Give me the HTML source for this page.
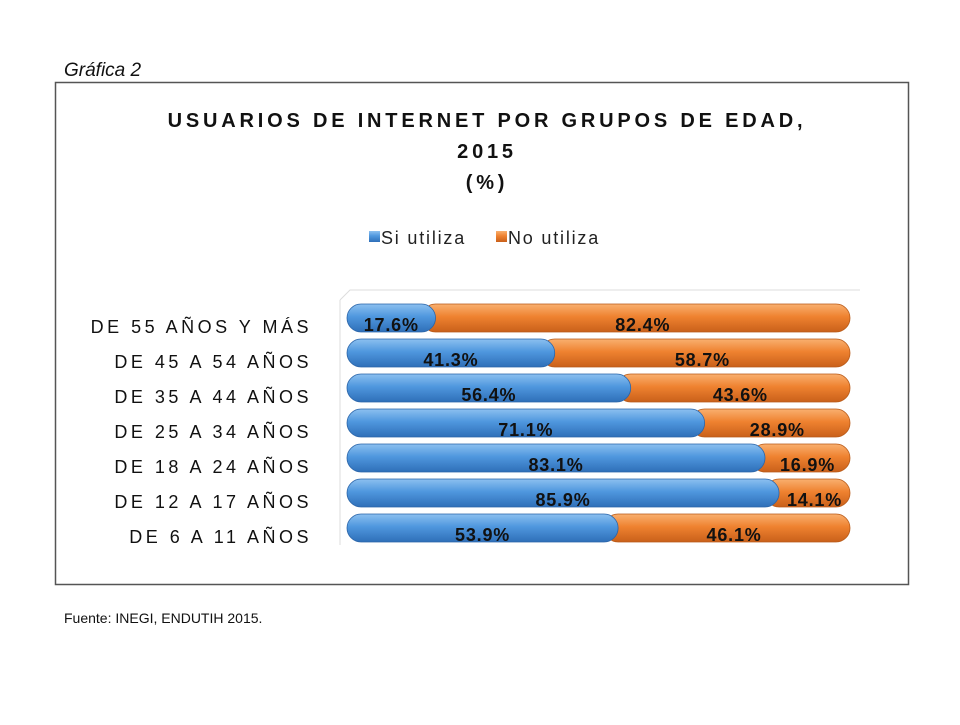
<!DOCTYPE html>
<html><head><meta charset="utf-8"><style>
body{margin:0;background:#fff;width:960px;height:720px;overflow:hidden;font-family:"Liberation Sans",sans-serif}
</style></head><body>
<svg width="960" height="720">
<defs>
<linearGradient id="gb" x1="0" y1="0" x2="0" y2="1"><stop offset="0" stop-color="#8cc0f0"/><stop offset="0.45" stop-color="#4f97de"/><stop offset="1" stop-color="#2f6fb8"/></linearGradient>
<linearGradient id="go" x1="0" y1="0" x2="0" y2="1"><stop offset="0" stop-color="#f9b070"/><stop offset="0.45" stop-color="#ef8230"/><stop offset="1" stop-color="#c9601a"/></linearGradient>
</defs>
<text x="64" y="76" font-size="19" font-style="italic" fill="#111">Gráfica 2</text>
<rect x="55.5" y="82.5" width="853" height="502" fill="#fff" stroke="#555" stroke-width="1.5"/>
<g font-weight="bold" font-size="20" fill="#111" text-anchor="middle" letter-spacing="3.8">
<text x="487" y="127">USUARIOS DE INTERNET POR GRUPOS DE EDAD,</text>
<text x="487" y="158">2015</text>
<text x="487" y="189">(%)</text>
</g>
<g font-size="18" fill="#222" letter-spacing="1.8">
<rect x="369" y="231" width="11" height="11" fill="url(#gb)"/>
<text x="381" y="244">Si utiliza</text>
<rect x="496" y="231" width="11" height="11" fill="url(#go)"/>
<text x="508" y="244">No utiliza</text>
</g>
<path d="M340 300 L350 290 L860 290 M340 300 L340 545" stroke="#ddd" fill="none"/>
<g id="bars"></g>
</svg>
<script>
const categories=["DE 55 AÑOS Y MÁS","DE 45 A 54 AÑOS","DE 35 A 44 AÑOS","DE 25 A 34 AÑOS","DE 18 A 24 AÑOS","DE 12 A 17 AÑOS","DE 6 A 11 AÑOS"];
const siValues=[17.6,41.3,56.4,71.1,83.1,85.9,53.9];
const noValues=[82.4,58.7,43.6,28.9,16.9,14.1,46.1];
const NS="http://www.w3.org/2000/svg";
const g=document.getElementById('bars');
const x0=347,x1=850,yTop=318,step=35,h=28;
const xs=v=>x0+(x1-x0)*v/100;
const yc=i=>yTop+i*step;
function mk(t,a){const e=document.createElementNS(NS,t);for(const k in a)e.setAttribute(k,a[k]);g.appendChild(e);return e;}
categories.forEach((c,i)=>{
 const y=yc(i);
 const lab=mk('text',{x:312,y:y+15,'text-anchor':'end','font-size':'18','letter-spacing':'3.5',fill:'#111'});
 lab.textContent=c;
 
 
 const tot=siValues[i]+noValues[i];
 const xa=xs(0),xm=xs(siValues[i]/tot*100),xb=xs(100);
 const ro=mk('rect',{x:xm-14,y:y-h/2,width:xb-xm+14,height:h,rx:14,fill:'url(#go)',stroke:'#b85a18','stroke-width':'0.8'});
 
 
 const rb=mk('rect',{x:xa,y:y-h/2,width:xm-xa,height:h,rx:14,fill:'url(#gb)',stroke:'#2a64a8','stroke-width':'0.8'});
 
 
 const t1=mk('text',{x:(xa+xm)/2,y:y+13,'text-anchor':'middle','font-size':'18','letter-spacing':'0.8','font-weight':'bold',fill:'#111'});
 t1.textContent=siValues[i].toFixed(1)+'%';
 
 
 const t2=mk('text',{x:(xm+xb)/2,y:y+13,'text-anchor':'middle','font-size':'18','letter-spacing':'0.8','font-weight':'bold',fill:'#111'});
 t2.textContent=noValues[i].toFixed(1)+'%';
 
 
});
</script>
<div style="position:absolute;left:64px;top:610px;font-size:14px;color:#111">Fuente: INEGI, ENDUTIH 2015.</div>
</body></html>
